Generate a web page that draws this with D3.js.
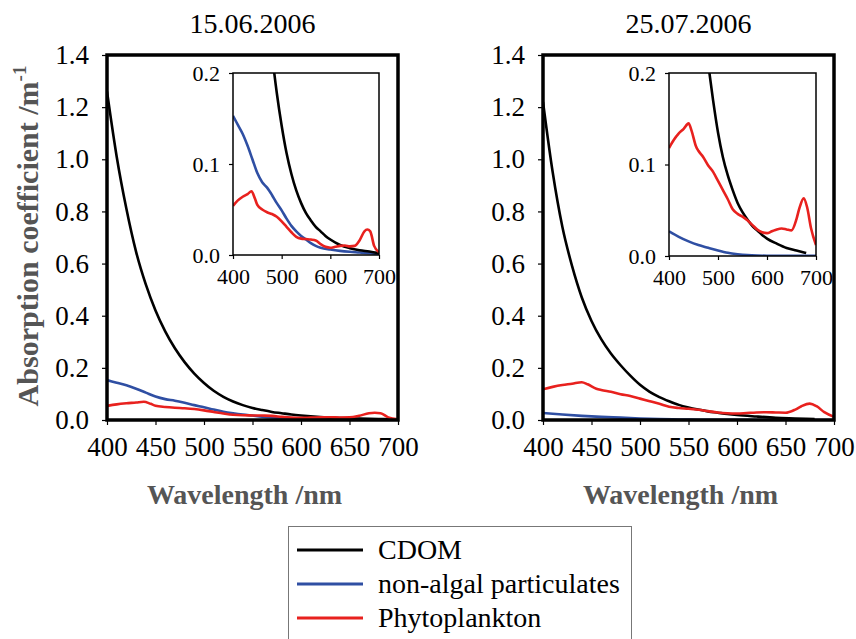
<!DOCTYPE html>
<html>
<head>
<meta charset="utf-8">
<script src="https://cdn.jsdelivr.net/npm/d3@7"></script>
<style>
  body { margin: 0; background: #fff; overflow: hidden; }
  svg { display: block; }
  text { font-family: 'Times New Roman', 'Liberation Serif', Tinos, serif; }
</style>
</head>
<body>
<script>
// data
var panelTitles = ["15.06.2006", "25.07.2006"];
var seriesNames = ["CDOM", "non-algal particulates", "Phytoplankton"];

var junCdomWl  = [400, 410, 420, 430, 440, 450, 460, 470, 480, 490, 500, 510, 520, 530, 540, 550, 560, 570, 580, 590, 600, 620, 640, 660, 680, 700];
var junCdomVal = [1.26, 1.01, 0.81, 0.645, 0.52, 0.42, 0.34, 0.275, 0.222, 0.178, 0.142, 0.112, 0.089, 0.071, 0.057, 0.046, 0.038, 0.031, 0.026, 0.021, 0.017, 0.011, 0.0075, 0.0052, 0.0038, 0.002];

var junNapWl  = [400, 410, 420, 430, 440, 450, 460, 470, 480, 490, 500, 510, 520, 530, 540, 550, 560, 570, 580, 600, 620, 640, 660, 680, 700];
var junNapVal = [0.153, 0.143, 0.133, 0.12, 0.105, 0.09, 0.08, 0.074, 0.066, 0.057, 0.049, 0.040, 0.032, 0.026, 0.021, 0.017, 0.013, 0.010, 0.008, 0.006, 0.0045, 0.0035, 0.0028, 0.002, 0.001];

var junPhyWl  = [400, 410, 420, 430, 438, 445, 450, 460, 470, 480, 490, 500, 510, 520, 530, 540, 550, 560, 570, 580, 590, 600, 610, 620, 630, 640, 650, 660, 670, 676, 682, 690, 700];
var junPhyVal = [0.054, 0.060, 0.064, 0.067, 0.070, 0.062, 0.055, 0.050, 0.047, 0.045, 0.042, 0.037, 0.031, 0.025, 0.020, 0.018, 0.0175, 0.017, 0.016, 0.012, 0.009, 0.008, 0.009, 0.010, 0.0105, 0.0095, 0.010, 0.016, 0.026, 0.028, 0.026, 0.010, 0.003];

var julCdomWl  = [400, 410, 420, 430, 440, 450, 460, 470, 480, 490, 500, 510, 520, 530, 540, 550, 560, 570, 580, 590, 600, 620, 640, 660, 680];
var julCdomVal = [1.22, 0.95, 0.74, 0.59, 0.47, 0.38, 0.31, 0.255, 0.21, 0.17, 0.135, 0.108, 0.088, 0.072, 0.058, 0.048, 0.04, 0.033, 0.028, 0.023, 0.019, 0.0135, 0.0088, 0.006, 0.0033];

var julNapWl  = [400, 420, 440, 460, 480, 500, 520, 540, 560, 580, 600, 650, 700];
var julNapVal = [0.027, 0.021, 0.016, 0.012, 0.009, 0.006, 0.0035, 0.002, 0.001, 0.0005, 0.0003, 0.0002, 0.0001];

var julPhyWl  = [400, 410, 420, 430, 440, 446, 455, 460, 470, 480, 490, 500, 510, 520, 530, 540, 550, 560, 570, 580, 590, 600, 610, 620, 630, 640, 650, 660, 666, 675, 682, 690, 700];
var julPhyVal = [0.118, 0.127, 0.134, 0.139, 0.145, 0.137, 0.12, 0.115, 0.108, 0.099, 0.092, 0.082, 0.072, 0.062, 0.051, 0.046, 0.043, 0.039, 0.034, 0.029, 0.026, 0.025, 0.027, 0.029, 0.030, 0.029, 0.028, 0.040, 0.052, 0.063, 0.053, 0.030, 0.012];

var mainXTicks = [400, 450, 500, 550, 600, 650, 700];
var mainYTicks = [0, 0.2, 0.4, 0.6, 0.8, 1.0, 1.2, 1.4];
var insetXTicks = [400, 500, 600, 700];
var insetYTicks = [0, 0.1, 0.2];

var colors = ["#000000", "#2f4fa3", "#e8211e"];
var fontStack = "'Times New Roman', 'Liberation Serif', Tinos, serif";

function zip(wl, val) {
    return wl.map(function(w, i) { return { w: w, v: val[i] }; });
}

var panels = [
    [zip(junCdomWl, junCdomVal), zip(junNapWl, junNapVal), zip(junPhyWl, junPhyVal)],
    [zip(julCdomWl, julCdomVal), zip(julNapWl, julNapVal), zip(julPhyWl, julPhyVal)]
];

var width = 856;
var height = 639;

var svg = d3.select("body")
            .append("svg")
            .attr("width", width)
            .attr("height", height)
            .attr("font-family", fontStack);

var defs = svg.append("defs");

// main box and inset box for each panel
var mainBoxes = [{ x: 107, y: 55, w: 291, h: 365 }, { x: 543, y: 55, w: 291, h: 365 }];
var insetBoxes = [{ x: 233, y: 73, w: 146, h: 182 }, { x: 669, y: 73, w: 147, h: 183 }];

function styleAxis(g, fontSize) {
    g.attr("font-family", fontStack).attr("font-size", fontSize);
    g.select(".domain").remove();
    g.selectAll(".tick line").attr("stroke", "#000").attr("stroke-width", 1.2);
    g.selectAll(".tick text").attr("fill", "#000").attr("font-family", fontStack);
}

function drawPlot(g, box, xTicks, yTicks, yMax, data, opts, clipId) {
    var x = d3.scaleLinear().domain([400, 700]).range([box.x, box.x + box.w]);
    var y = d3.scaleLinear().domain([0, yMax]).range([box.y + box.h, box.y]);

    g.append("rect")
     .attr("x", box.x).attr("y", box.y)
     .attr("width", box.w).attr("height", box.h)
     .attr("fill", "#fff");

    defs.append("clipPath").attr("id", clipId)
        .append("rect")
        .attr("x", box.x).attr("y", box.y)
        .attr("width", box.w).attr("height", box.h);

    var line = d3.line()
                 .x(function(d) { return x(d.w); })
                 .y(function(d) { return y(d.v); })
                 .curve(d3.curveMonotoneX);

    var lines = g.append("g").attr("clip-path", "url(#" + clipId + ")");
    [1, 0, 2].forEach(function(i) {
        lines.append("path")
             .datum(data[i])
             .attr("d", line)
             .attr("fill", "none")
             .attr("stroke", colors[i])
             .attr("stroke-width", opts.lineWidth)
             .attr("stroke-linejoin", "round");
    });

    var xAxis = g.append("g")
                 .attr("transform", "translate(0," + (box.y + box.h) + ")")
                 .call(d3.axisBottom(x).tickValues(xTicks).tickSize(opts.tick).tickPadding(opts.xPad).tickFormat(d3.format("d")));
    styleAxis(xAxis, opts.font);

    var yAxis = g.append("g")
                 .attr("transform", "translate(" + box.x + ",0)")
                 .call(d3.axisLeft(y).tickValues(yTicks).tickSize(opts.tick).tickPadding(opts.yPad).tickFormat(d3.format(".1f")));
    styleAxis(yAxis, opts.font);

    g.append("rect")
     .attr("x", box.x).attr("y", box.y)
     .attr("width", box.w).attr("height", box.h)
     .attr("fill", "none")
     .attr("stroke", "#000")
     .attr("stroke-width", opts.frame);
}

panels.forEach(function(data, p) {
    var g = svg.append("g");
    var mb = mainBoxes[p];

    drawPlot(g, mb, mainXTicks, mainYTicks, 1.4, data,
             { lineWidth: 2.6, tick: 5, xPad: 12, yPad: 13, font: 27, frame: 3.5 }, "clipMain" + p);

    drawPlot(g, insetBoxes[p], insetXTicks, insetYTicks, 0.2, data,
             { lineWidth: 2.6, tick: 4, xPad: 9, yPad: 9, font: 22, frame: 1.5 }, "clipInset" + p);

    g.append("text")
     .attr("x", mb.x + mb.w / 2)
     .attr("y", 33)
     .attr("text-anchor", "middle")
     .attr("font-family", fontStack)
     .attr("font-size", 28)
     .text(panelTitles[p]);

    g.append("text")
     .attr("x", mb.x + mb.w / 2 - 8)
     .attr("y", 504)
     .attr("text-anchor", "middle")
     .attr("font-family", fontStack)
     .attr("font-size", 28)
     .attr("font-weight", "bold")
     .attr("fill", "#555")
     .text("Wavelength /nm");
});

// y axis title
var yTitle = svg.append("text")
    .attr("transform", "translate(38,236) rotate(-90)")
    .attr("text-anchor", "middle")
    .attr("font-family", fontStack)
    .attr("font-size", 30)
    .attr("font-weight", "bold")
    .attr("fill", "#555");
yTitle.append("tspan").text("Absorption coefficient  /m");
yTitle.append("tspan").attr("dy", -12).attr("font-size", 19).text("-1");

// legend
var legend = svg.append("g");
legend.append("rect")
      .attr("x", 288.5).attr("y", 526.5)
      .attr("width", 343).attr("height", 130)
      .attr("fill", "#fff")
      .attr("stroke", "#777")
      .attr("stroke-width", 1);

seriesNames.forEach(function(name, i) {
    var ly = 550 + i * 34;
    legend.append("line")
          .attr("x1", 297).attr("x2", 363)
          .attr("y1", ly).attr("y2", ly)
          .attr("stroke", colors[i])
          .attr("stroke-width", 3);
    legend.append("text")
          .attr("x", 378)
          .attr("y", ly + 9)
          .attr("font-family", fontStack)
          .attr("font-size", 28)
          .text(name);
});
</script>
</body>
</html>
